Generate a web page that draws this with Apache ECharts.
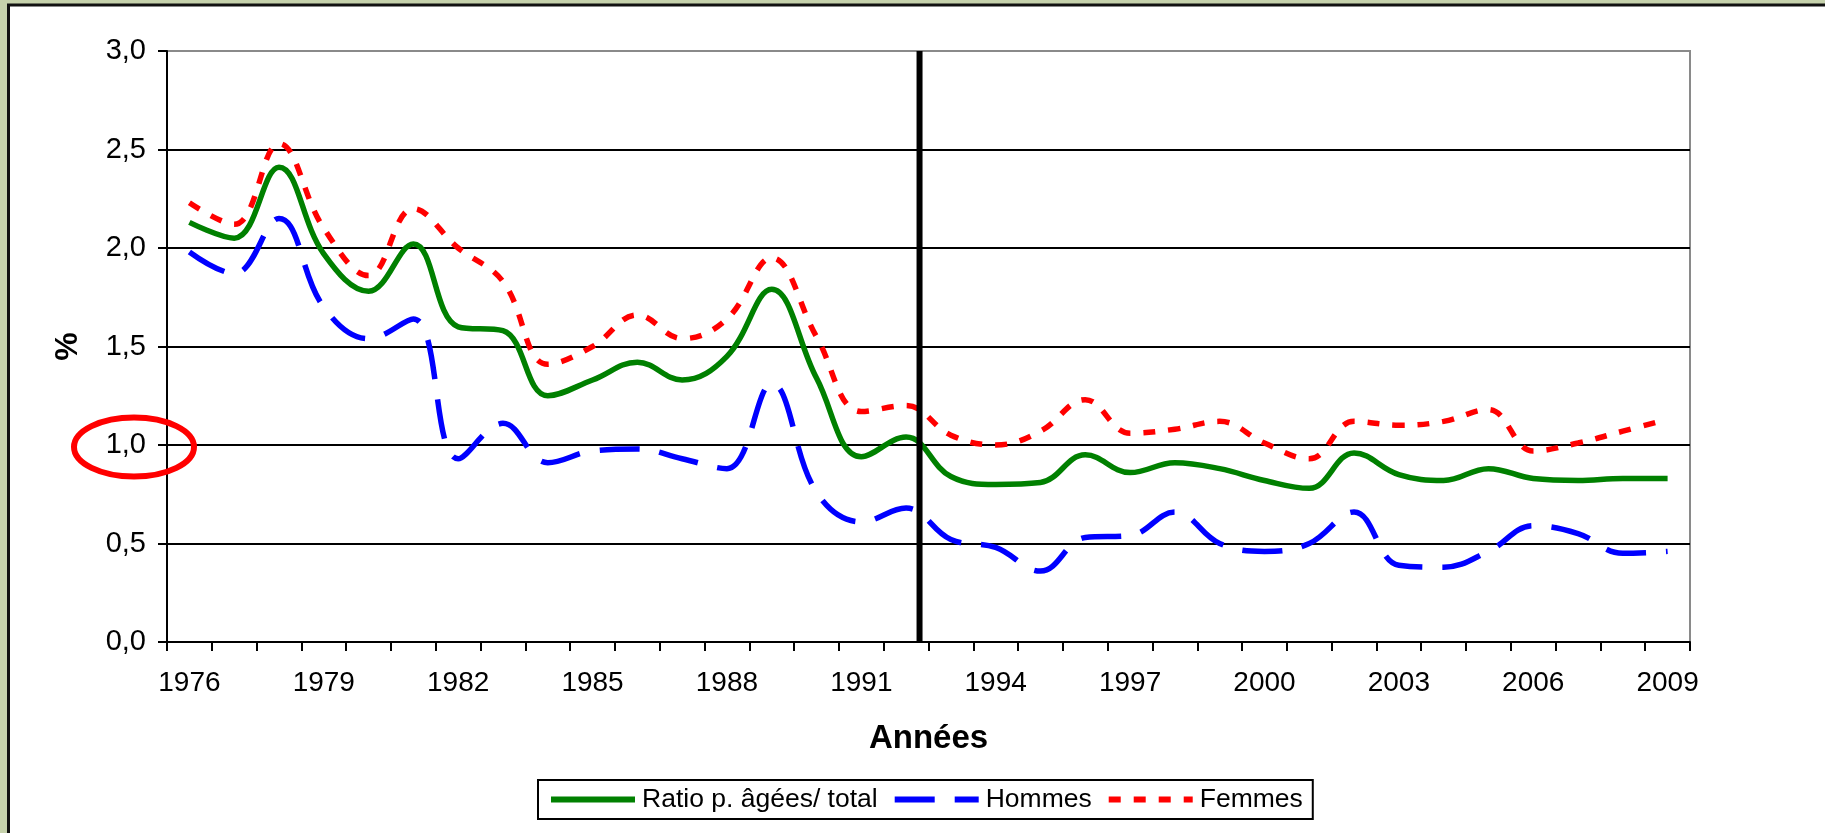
<!DOCTYPE html>
<html>
<head>
<meta charset="utf-8">
<script src="https://cdn.jsdelivr.net/npm/echarts@6/dist/echarts.min.js"></script>
<style>
  html, body { margin: 0; padding: 0; background: #c6d2ac; }
  #chart { width: 1825px; height: 833px; }
</style>
</head>
<body>
<div id="chart"></div>
<script>
// annual values, in %
const years = ['1976','1977','1978','1979','1980','1981','1982','1983','1984','1985',
  '1986','1987','1988','1989','1990','1991','1992','1993','1994','1995',
  '1996','1997','1998','1999','2000','2001','2002','2003','2004','2005',
  '2006','2007','2008','2009']
const ratioTotal = [2.13, 2.05, 2.41, 1.97, 1.78, 2.02, 1.60, 1.58, 1.25, 1.33,
  1.42, 1.33, 1.45, 1.79, 1.34, 0.94, 1.04, 0.84, 0.80, 0.81,
  0.95, 0.86, 0.91, 0.88, 0.82, 0.78, 0.96, 0.85, 0.82, 0.88,
  0.83, 0.82, 0.83, 0.83]
const hommes = [1.98, 1.87, 2.15, 1.70, 1.54, 1.64, 0.93, 1.11, 0.91, 0.97,
  0.98, 0.93, 0.88, 1.31, 0.76, 0.61, 0.68, 0.52, 0.48, 0.36,
  0.53, 0.54, 0.66, 0.50, 0.46, 0.50, 0.66, 0.39, 0.38, 0.46,
  0.59, 0.55, 0.45, 0.46]
const femmes = [2.23, 2.12, 2.53, 2.10, 1.86, 2.20, 2.00, 1.83, 1.41, 1.50,
  1.66, 1.54, 1.64, 1.95, 1.55, 1.17, 1.20, 1.05, 1.00, 1.07,
  1.23, 1.06, 1.08, 1.12, 1.01, 0.93, 1.12, 1.10, 1.12, 1.18,
  0.97, 1.01, 1.07, 1.13]
// vertical separator position (in years) and the highlighted tick
const breakYear = 1992.3
const circledValue = 1.0

const font = "'Liberation Sans', Arial, sans-serif"
const chart = echarts.init(document.getElementById('chart'))

const frame = {
  type: 'rect',
  z: -100,
  shape: { x: 8.5, y: 5, width: 1900, height: 900 },
  style: { fill: '#fff', stroke: '#111', lineWidth: 3 }
}

const option = {
  animation: false,
  backgroundColor: 'transparent',
  textStyle: { fontFamily: font, color: '#000' },
  graphic: [frame],
  grid: {
    left: 167, top: 51, right: 135, bottom: 191,
    containLabel: false,
    outerBoundsMode: 'none',
    show: true,
    backgroundColor: 'transparent',
    borderColor: '#8a8a8a',
    borderWidth: 2
  },
  legend: {
    left: 538, top: 780,
    padding: [6, 10, 6, 10],
    itemGap: 14,
    itemWidth: 84,
    itemHeight: 20,
    borderColor: '#000',
    borderWidth: 2,
    backgroundColor: '#fff',
    itemStyle: { opacity: 0 },
    lineStyle: { width: 6, cap: 'butt' },
    textStyle: { fontFamily: font, fontSize: 26.5, color: '#000', padding: [0, 0, 0, 2] },
    data: ['Ratio p. âgées/ total', 'Hommes', 'Femmes']
  },
  xAxis: [{
    type: 'category',
    data: years,
    boundaryGap: true,
    name: 'Années',
    nameLocation: 'middle',
    nameGap: 80,
    nameTextStyle: { fontFamily: font, fontSize: 33, fontWeight: 'bold', color: '#000' },
    axisLine: { lineStyle: { color: '#000', width: 2 } },
    axisTick: { show: true, interval: 0, length: 9, lineStyle: { color: '#000', width: 2 } },
    axisLabel: { interval: 2, margin: 27, fontSize: 28, color: '#000', fontFamily: font },
    splitLine: { show: false }
  }, {
    type: 'value',
    min: 1975.5,
    max: 2009.5,
    show: false,
    splitLine: { show: false }
  }],
  yAxis: {
    type: 'value',
    min: 0,
    max: 3,
    interval: 0.5,
    name: '%',
    nameLocation: 'middle',
    nameGap: 83,
    nameTextStyle: { fontFamily: font, fontSize: 32, fontWeight: 'bold', color: '#000' },
    axisLine: { show: true, lineStyle: { color: '#000', width: 2 } },
    axisTick: { show: true, length: 9, lineStyle: { color: '#000', width: 2 } },
    axisLabel: {
      margin: 21, fontSize: 29, color: '#000', fontFamily: font,
      formatter: v => v.toFixed(1).replace('.', ',')
    },
    splitLine: { show: true, showMaxLine: false, lineStyle: { color: '#000', width: 2 } }
  },
  series: [
    {
      name: 'Ratio p. âgées/ total',
      type: 'line',
      data: ratioTotal,
      smooth: 0.4,
      symbol: 'none',
      lineStyle: { color: '#008000', width: 5.5 },
      itemStyle: { color: '#008000' }
    },
    {
      name: 'Hommes',
      type: 'line',
      data: hommes,
      smooth: 0.4,
      symbol: 'none',
      lineStyle: { color: '#0000ff', width: 5.5, type: [40, 20], cap: 'butt' },
      itemStyle: { color: '#0000ff' }
    },
    {
      name: 'Femmes',
      type: 'line',
      data: femmes,
      smooth: 0.4,
      symbol: 'none',
      lineStyle: { color: '#ff0000', width: 5.5, type: [12, 13], cap: 'butt' },
      itemStyle: { color: '#ff0000' }
    },
    {
      name: 'separator',
      type: 'line',
      xAxisIndex: 1,
      data: [[breakYear, 0], [breakYear, 3]],
      symbol: 'none',
      z: 5,
      lineStyle: { color: '#000', width: 6 },
      tooltip: { show: false }
    }
  ]
}
chart.setOption(option)

// red ellipse around the 1,0 tick label
const cy = chart.convertToPixel({ yAxisIndex: 0 }, circledValue)
chart.setOption({
  graphic: [frame, {
    type: 'ellipse',
    z: 100,
    shape: { cx: 167 - 33, cy: cy + 2, rx: 60, ry: 29.5 },
    style: { fill: 'none', stroke: '#ff0000', lineWidth: 6 }
  }]
})
</script>
</body>
</html>
